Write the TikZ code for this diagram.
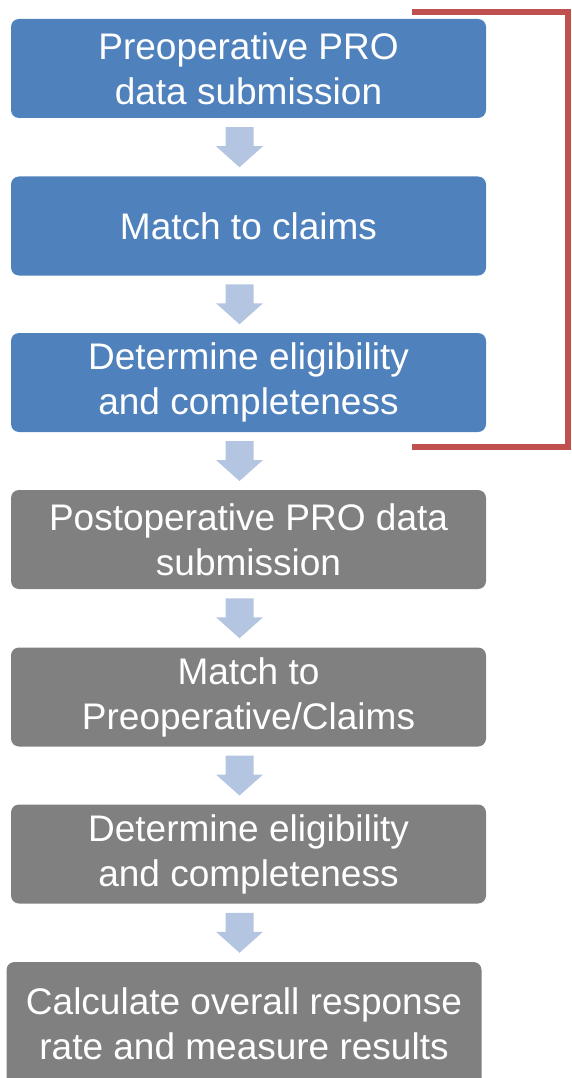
\documentclass[tikz,border=0pt]{standalone}
\usepackage{fontspec}
\setmainfont{Liberation Sans}
\usetikzlibrary{calc}
\definecolor{boxblue}{RGB}{79,129,189}
\definecolor{boxgray}{RGB}{128,128,128}
\definecolor{arrowblue}{RGB}{180,197,225}
\definecolor{bracketred}{RGB}{192,80,77}
\tikzset{
  flowbox/.style={rectangle, rounded corners=8pt, minimum width=475pt, minimum height=99pt,
    inner sep=0pt, align=center, text=white, font=\fontsize{37}{45}\selectfont},
  bluebox/.style={flowbox, fill=boxblue},
  graybox/.style={flowbox, fill=boxgray},
  bracket/.style={draw=bracketred, line width=6pt},
}
\newcommand{\blockarrow}[1]{%
  \fill[arrowblue] ($(#1)+(-14pt,20pt)$) -- ($(#1)+(14pt,20pt)$) -- ($(#1)+(14pt,1pt)$)
    -- ($(#1)+(23.5pt,1pt)$) -- ($(#1)+(0pt,-20pt)$) -- ($(#1)+(-23.5pt,1pt)$)
    -- ($(#1)+(-14pt,1pt)$) -- cycle;}
\begin{document}
\begin{tikzpicture}[x=1pt,y=1pt]
\useasboundingbox (0,0) rectangle (572,-1078);
\node[bluebox] (b1) at (248.5,-68.5) {Preoperative PRO\\data submission};
\node[bluebox] (b2) at (248.5,-226) {Match to claims};
\node[bluebox] (b3) at (248.5,-382.5) {Determine eligibility\\and completeness};
\node[graybox] (b4) at (248.5,-539.5) {Postoperative PRO data\\submission};
\node[graybox] (b5) at (248.5,-697) {Match to\\Preoperative/Claims};
\node[graybox] (b6) at (248.5,-854) {Determine eligibility\\and completeness};
\node[graybox, minimum height=124pt] (b7) at (244,-1024) {Calculate overall response\\rate and measure results};
\foreach \a/\b in {b1/b2,b2/b3,b3/b4,b4/b5,b5/b6,b6/b7}{
  \coordinate (m) at ($(\a.south)!0.5!(\b.north)$);
  \coordinate (m) at (239.5,0 |- m);
  \blockarrow{m}
}
\coordinate (rt) at (412,-12);
\coordinate (rb) at (412,-447);
\draw[bracket] (rt) -- (568,-12) -- (568,-447) -- (rb);
\end{tikzpicture}
\end{document}
